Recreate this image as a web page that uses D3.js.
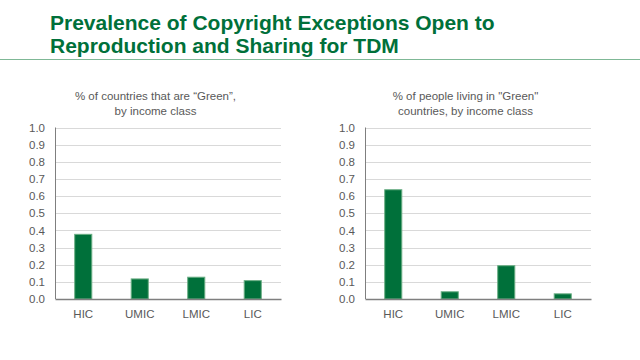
<!DOCTYPE html>
<html><head><meta charset="utf-8">
<script src="https://cdn.jsdelivr.net/npm/d3@7"></script>
<style>body{margin:0;background:#fff}svg{display:block;font-family:"Liberation Sans",Arial,sans-serif}</style>
</head><body><svg id="c" width="640" height="360"></svg>
<script>
const titleLines = ["Prevalence of Copyright Exceptions Open to", "Reproduction and Sharing for TDM"];
const categories = ["HIC", "UMIC", "LMIC", "LIC"];
const countriesShare = [0.38, 0.12, 0.13, 0.11];
const peopleShare = [0.64, 0.045, 0.197, 0.033];
const yTicks = [0, 0.1, 0.2, 0.3, 0.4, 0.5, 0.6, 0.7, 0.8, 0.9, 1.0];
const subtitleLeft = ["% of countries that are \u201cGreen\u201d,", "by income class"];
const subtitleRight = ["% of people living in \"Green\"", "countries, by income class"];

const svg = d3.select("#c");
const green = "#00703a";

svg.append("text").attr("x", 50).attr("y", 30)
  .attr("fill", green).attr("font-weight", "bold").attr("font-size", 21)
  .attr("textLength", null)
  .selectAll("tspan").data(titleLines).join("tspan")
  .attr("x", 50).attr("dy", (d, i) => i ? 23 : 0).text(d => d);

svg.append("line").attr("x1", 0).attr("x2", 640).attr("y1", 59.5).attr("y2", 59.5)
  .attr("stroke", "#7fb896").attr("stroke-width", 1);

function panel(x0, values, subtitle) {
  const left = x0, right = x0 + 226, top = 127.5, bottom = 299;
  const x = d3.scaleBand().domain(categories).range([left, right]).paddingInner(0.68).paddingOuter(0.34);
  const y = d3.scaleLinear().domain([0, 1]).range([bottom, top]);
  const g = svg.append("g");

  g.append("text").attr("text-anchor", "middle").attr("fill", "#595959").attr("font-size", 11.5)
    .selectAll("tspan").data(subtitle).join("tspan")
    .attr("x", left + 100.5).attr("y", (d, i) => 100 + i * 14.5).text(d => d);

  g.append("g").selectAll("line").data(yTicks.slice(1)).join("line")
    .attr("x1", left).attr("x2", right)
    .attr("y1", d => Math.round(y(d)) + 0.5).attr("y2", d => Math.round(y(d)) + 0.5)
    .attr("stroke", "#d9d9d9");

  const ya = g.append("g").attr("transform", `translate(${left},0)`)
    .call(d3.axisLeft(y).tickValues(yTicks).tickFormat(d3.format(".1f")).tickSize(0).tickPadding(10));
  ya.select(".domain").remove();
  ya.selectAll("text").attr("fill", "#595959").attr("font-size", 11.5).attr("font-family", "Liberation Sans, Arial, sans-serif");

  g.selectAll("rect").data(values).join("rect")
    .attr("x", (d, i) => x(categories[i]) + 0.5).attr("width", x.bandwidth() - 1)
    .attr("y", d => y(d) + 0.5).attr("height", d => y(0) - y(d) - 0.5)
    .attr("fill", green).attr("stroke", "#6aae84").attr("stroke-width", 1);

  g.append("line").attr("x1", left + 0.5).attr("x2", left + 0.5).attr("y1", top).attr("y2", bottom)
    .attr("stroke", "#7f7f7f");
  const xa = g.append("g").attr("transform", `translate(0,${bottom})`)
    .call(d3.axisBottom(x).tickSize(0).tickPadding(11));
  xa.select(".domain").attr("stroke", "#7f7f7f").attr("stroke-width", 1.3);
  xa.selectAll("text").attr("fill", "#595959").attr("font-size", 11.5).attr("font-family", "Liberation Sans, Arial, sans-serif");
}

panel(55, countriesShare, subtitleLeft);
panel(365, peopleShare, subtitleRight);
</script></body></html>
